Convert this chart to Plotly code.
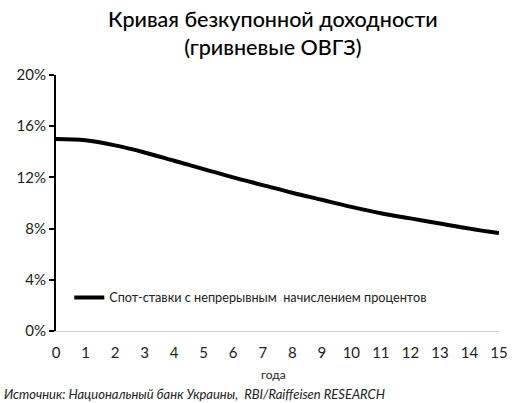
import plotly.graph_objects as go

years = [0, 1, 2, 3, 4, 5, 6, 7, 8, 9, 10, 11, 12, 13, 14, 15]
spot_rates = [15.0, 14.9, 14.5, 13.95, 13.3, 12.65, 12.0, 11.4, 10.8, 10.25, 9.7, 9.2, 8.8, 8.4, 8.0, 7.65]
y_ticks = [0, 4, 8, 12, 16, 20]
y_tick_labels = ["0%", "4%", "8%", "12%", "16%", "20%"]
x_ticks = list(range(0, 16))

font_family = "Lato, Noto Sans, sans-serif"

fig = go.Figure()
fig.add_trace(go.Scatter(
    x=years, y=spot_rates, mode="lines",
    line=dict(color="black", width=4, shape="spline", smoothing=1.0),
    name="Спот-ставки с непрерывным  начислением процентов",
))

fig.update_layout(
    width=512, height=403,
    margin=dict(l=56, r=13, t=75, b=72, autoexpand=False),
    paper_bgcolor="white", plot_bgcolor="white",
    font=dict(family=font_family, color="#222"),
    showlegend=True,
    legend=dict(
        x=0.03, y=0.13, xanchor="left", yanchor="middle",
        bgcolor="rgba(0,0,0,0)", font=dict(size=12.7, color="#222"),
        itemwidth=30,
    ),
    xaxis=dict(
        range=[0, 15], tickmode="array", tickvals=x_ticks,
        showgrid=False, zeroline=False, automargin=False,
        showline=True, linecolor="#d0d0d0", linewidth=1,
        ticks="outside", ticklen=8, tickcolor="rgba(0,0,0,0)",
        tickfont=dict(size=15, color="#222"),
    ),
    yaxis=dict(
        range=[0, 20], tickmode="array", tickvals=y_ticks, ticktext=y_tick_labels,
        showgrid=False, zeroline=False, automargin=False,
        showline=True, linecolor="black", linewidth=2,
        ticks="outside", ticklen=5, tickcolor="black", tickwidth=1.5,
        tickfont=dict(size=15, color="#222"),
    ),
)

fig.add_annotation(
    text="Кривая безкупонной доходности<br>(гривневые ОВГЗ)",
    xref="paper", yref="paper", x=0.49, y=1.164, xanchor="center", yanchor="middle",
    showarrow=False, font=dict(size=21.5, color="black", family=font_family, weight=500),
)

fig.add_annotation(
    text="года",
    xref="paper", yref="paper", x=0.49, y=-0.168, xanchor="center", yanchor="middle",
    showarrow=False, font=dict(size=12, color="#222"),
)

fig.add_annotation(
    text="<i>Источник: Национальный банк Украины,  RBI/Raiffeisen RESEARCH</i>",
    xref="paper", yref="paper", x=-0.122, y=-0.245, xanchor="left", yanchor="middle",
    showarrow=False, font=dict(size=13, color="#222"),
)

fig.write_html("out.html", config={"displayModeBar": False},
               post_script="document.body.style.margin='0';")
